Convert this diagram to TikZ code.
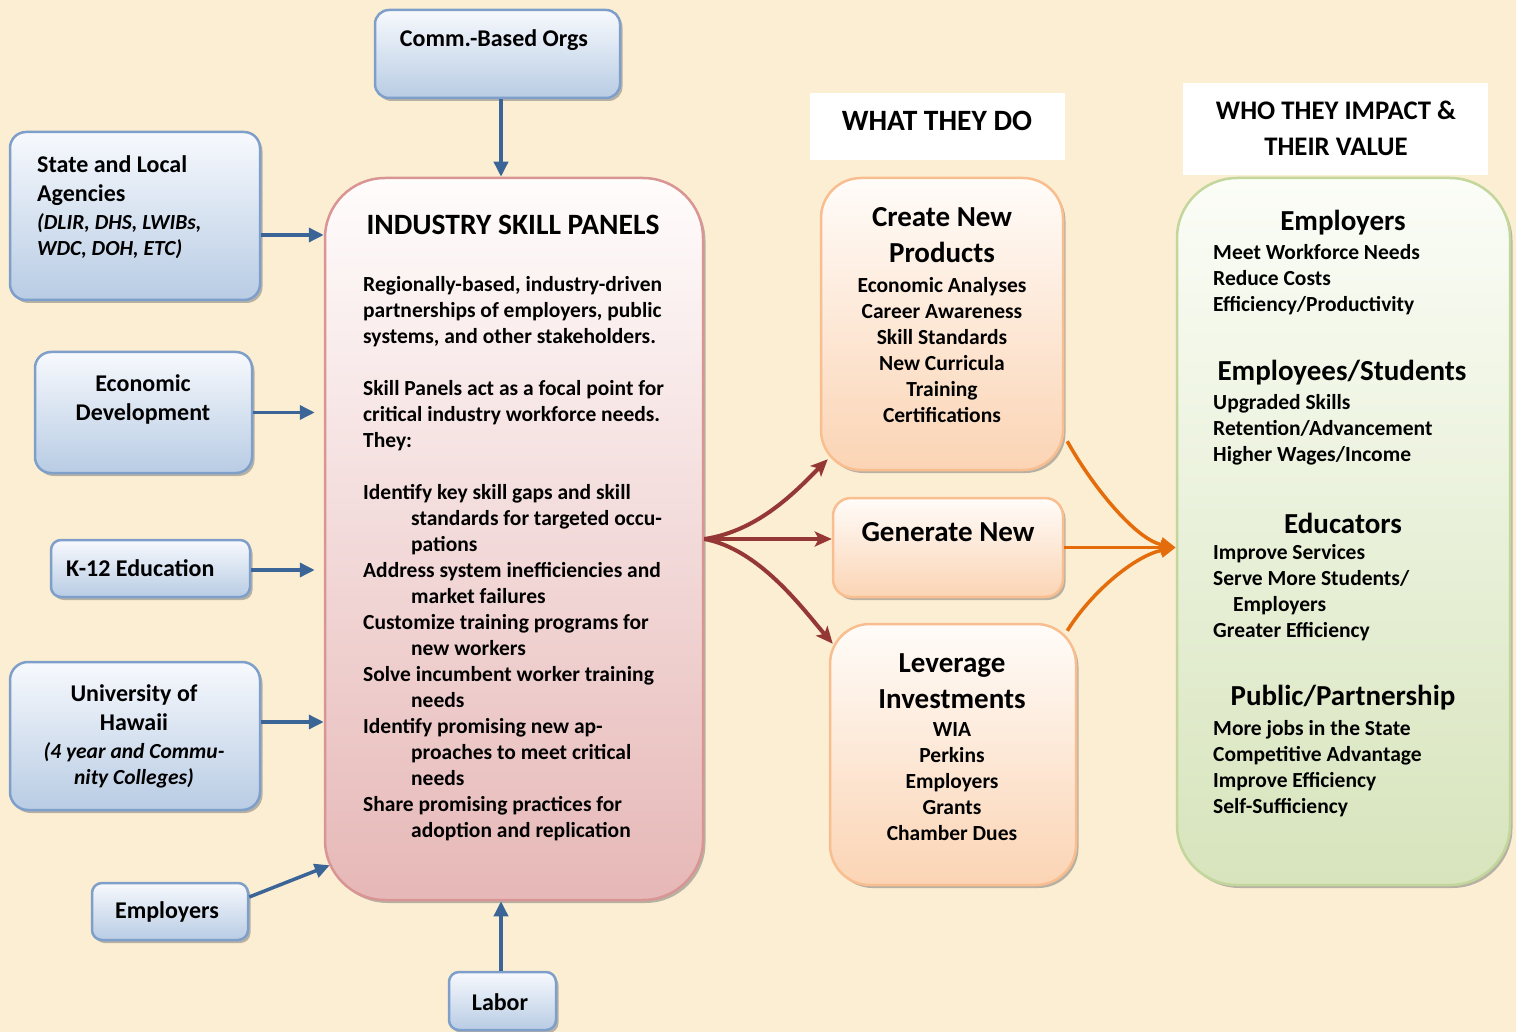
\documentclass[tikz,border=0pt]{standalone}
\usepackage{fontspec}
\setmainfont{Carlito}
\usetikzlibrary{positioning,calc,shadows,arrows.meta}

\definecolor{bgcol}{HTML}{FCEED2}
\definecolor{srcline}{HTML}{7F9FCB}
\definecolor{srctop}{HTML}{F7F9FD}
\definecolor{srcbot}{HTML}{B8CCE4}
\definecolor{feedcol}{HTML}{3B6497}
\definecolor{hubline}{HTML}{D99594}
\definecolor{hubtop}{HTML}{FFFCFC}
\definecolor{hubbot}{HTML}{E6B8B7}
\definecolor{makecol}{HTML}{953735}
\definecolor{doline}{HTML}{F9BE8F}
\definecolor{dotop}{HTML}{FFFCF9}
\definecolor{dobot}{HTML}{FBD4B4}
\definecolor{outcol}{HTML}{E46C0A}
\definecolor{gainline}{HTML}{C3D69B}
\definecolor{gaintop}{HTML}{FBFDF7}
\definecolor{gainbot}{HTML}{D7E4BC}

\newcommand\skbody{\fontsize{21.5}{26}\selectfont\bfseries}
\newcommand\sksrc{\fontsize{24}{29}\selectfont\bfseries}
\newcommand\skhead{\fontsize{29}{36}\selectfont\bfseries}
\newcommand\sktitle{\fontsize{29.5}{36}\selectfont\bfseries}
\newcommand\skcap{\fontsize{26.8}{36}\selectfont\bfseries}

\tikzset{
  panel/.style={rectangle, inner sep=0pt, line width=2.5pt,
    drop shadow={shadow xshift=2.5pt, shadow yshift=-3pt, fill=black!50, opacity=.55}},
  srcbox/.style={panel, draw=srcline, top color=srctop, bottom color=srcbot, rounded corners=16pt},
  hubbox/.style={panel, draw=hubline, top color=hubtop, bottom color=hubbot, rounded corners=60pt},
  dobox/.style={panel, draw=doline, top color=dotop, bottom color=dobot, rounded corners=40pt},
  gainbox/.style={panel, draw=gainline, top color=gaintop, bottom color=gainbot, rounded corners=60pt},
  capbox/.style={rectangle, fill=white, inner sep=0pt},
  txt/.style={inner sep=0pt, font=\skbody, align=left},
  feed/.style={draw=feedcol, line width=3.5pt, -{Triangle[length=15pt,width=14pt]}},
  make/.style={draw=makecol, line width=4pt, -{Stealth[length=17pt,width=15pt,inset=4pt]}},
  outflow/.style={draw=outcol, line width=3.5pt, -{Triangle[length=15pt,width=14pt]}},
}

\begin{document}
\begin{tikzpicture}[x=1pt,y=-1pt]
  \fill[bgcol] (0,0) rectangle (1516,1032);
  \useasboundingbox (0,0) rectangle (1516,1032);

  % who feeds the panels
  \node[srcbox, minimum width=245, minimum height=88, rounded corners=14pt] (comm) at (497.5,54) {};
  \node[srcbox, minimum width=250, minimum height=168] (state) at (135,216) {};
  \node[srcbox, minimum width=217, minimum height=121] (econ) at (143.5,412.5) {};
  \node[srcbox, minimum width=199, minimum height=57, rounded corners=10pt] (kedu) at (150.5,568.5) {};
  \node[srcbox, minimum width=250, minimum height=148, rounded corners=18pt] (univ) at (135,736) {};
  \node[srcbox, minimum width=156, minimum height=57, rounded corners=10pt] (empl) at (170,911.5) {};
  \node[srcbox, minimum width=107, minimum height=58, rounded corners=10pt] (labor) at (502.5,1001) {};

  \node[txt, font=\sksrc] (commT) at (494,40) {Comm.-Based Orgs};
  \node[txt, font=\sksrc, anchor=north west] (stateT) at (37,155.4) {State and Local\\Agencies};
  \node[txt, font=\skbody\itshape, anchor=north west] (stateN) at (37,213.6) {(DLIR, DHS, LWIBs,\\WDC, DOH, ETC)};
  \node[txt, font=\sksrc, align=center, anchor=north] (econT) at (143,374.4) {Economic\\Development};
  \node[txt, font=\sksrc, anchor=west] (keduT) at (66,568) {K-12 Education};
  \node[txt, font=\sksrc, align=center, anchor=north] (univT) at (134,684.4) {University of\\Hawaii};
  \node[txt, font=\skbody\itshape, align=center, anchor=north] (univN) at (134,742.6) {(4 year and Commu-\\nity Colleges)};
  \node[txt, font=\sksrc] (emplT) at (167,912) {Employers};
  \node[txt, font=\sksrc] (laborT) at (500,1002) {Labor};

  % the panels
  \node[hubbox, minimum width=378, minimum height=722] (isp) at (514,539) {};
  \node[txt, font=\sktitle] (ispT) at (513,225) {INDUSTRY SKILL PANELS};
  \node[txt, anchor=north west] (ispB) at (363,276.6) {%
    Regionally-based, industry-driven\\
    partnerships of employers, public\\
    systems, and other stakeholders.\\[26pt]
    Skill Panels act as a focal point for\\
    critical industry workforce needs.\\
    They:\\[26pt]
    Identify key skill gaps and skill\\
    \hspace*{48pt}standards for targeted occu-\\
    \hspace*{48pt}pations\\
    Address system inefficiencies and\\
    \hspace*{48pt}market failures\\
    Customize training programs for\\
    \hspace*{48pt}new workers\\
    Solve incumbent worker training\\
    \hspace*{48pt}needs\\
    Identify promising new ap-\\
    \hspace*{48pt}proaches to meet critical\\
    \hspace*{48pt}needs\\
    Share promising practices for\\
    \hspace*{48pt}adoption and replication};

  % what they do
  \node[capbox, minimum width=255, minimum height=67] (doCap) at (937.5,126.5) {};
  \node[txt, font=\sktitle] (doCapT) at (937,121) {WHAT THEY DO};
  \node[dobox, minimum width=242, minimum height=292] (create) at (942,324) {};
  \node[dobox, minimum width=230, minimum height=99, rounded corners=18pt] (generate) at (948,547.5) {};
  \node[dobox, minimum width=246, minimum height=261] (leverage) at (953,754.5) {};

  \node[txt, font=\skhead, align=center, anchor=north] (createT) at (942,207.4) {Create New\\Products};
  \node[txt, align=center, anchor=north] (createL) at (942,277.6) {Economic Analyses\\Career Awareness\\Skill Standards\\New Curricula\\Training\\Certifications};
  \node[txt, font=\skhead] (generateT) at (948,532) {Generate New};
  \node[txt, font=\skhead, align=center, anchor=north] (leverageT) at (952,653.4) {Leverage\\Investments};
  \node[txt, align=center, anchor=north] (leverageL) at (952,722.6) {WIA\\Perkins\\Employers\\Grants\\Chamber Dues};

  % who they impact
  \node[capbox, minimum width=305, minimum height=92] (gainCap) at (1335.5,129) {};
  \node[txt, font=\skcap, align=center] (gainCapT) at (1336,128) {WHO THEY IMPACT \&\\THEIR VALUE};
  \node[gainbox, minimum width=333, minimum height=707] (impact) at (1343.5,531.5) {};

  \node[txt, font=\skhead] (gEmpl) at (1343,223) {Employers};
  \node[txt, anchor=north west] (gEmplL) at (1213,244.6) {Meet Workforce Needs\\Reduce Costs\\Efficiency/Productivity};
  \node[txt, font=\skhead] (gStud) at (1342,373) {Employees/Students};
  \node[txt, anchor=north west] (gStudL) at (1213,394.6) {Upgraded Skills\\Retention/Advancement\\Higher Wages/Income};
  \node[txt, font=\skhead] (gEdu) at (1343,523) {Educators};
  \node[txt, anchor=north west] (gEduL) at (1213,544.6) {Improve Services\\Serve More Students/\\\hspace*{20pt}Employers\\Greater Efficiency};
  \node[txt, font=\skhead] (gPub) at (1343,698) {Public/Partnership};
  \node[txt, anchor=north west] (gPubL) at (1213,720.6) {More jobs in the State\\Competitive Advantage\\Improve Efficiency\\Self-Sufficiency};

  % inputs
  \draw[feed] ([xshift=3.5pt]comm.south) -- ([xshift=3.5pt]comm.south |- isp.north);
  \draw[feed] ([yshift=-19pt]state.east) -- ([yshift=-19pt]state.east -| isp.west);
  \draw[feed] (econ.east) -- ([xshift=-9pt]econ.east -| isp.west);
  \draw[feed] ([yshift=-1.5pt]kedu.east) -- ([xshift=-9pt,yshift=-1.5pt]kedu.east -| isp.west);
  \draw[feed] ([yshift=14pt]univ.east) -- ([yshift=14pt]univ.east -| isp.west);
  \draw[feed] ([yshift=14.5pt]empl.east) -- ([xshift=6pt,yshift=36pt]isp.south west);
  \draw[feed] ([xshift=-1.5pt]labor.north) -- ([xshift=-1.5pt]labor.north |- isp.south);

  % what the panels do
  \draw[make] (isp.east) .. controls +(55,-8) and +(-30,30) .. ([xshift=8pt,yshift=12pt]create.south west);
  \draw[make] (isp.east) -- (isp.east -| generate.west);
  \draw[make] (isp.east) .. controls +(55,10) and +(-30,-35) .. ([xshift=4pt,yshift=-21pt]leverage.north west);

  % who gains
  \coordinate (meet) at (impact.west |- generate.east);
  \draw[outflow] ([xshift=3pt,yshift=30pt]create.south east) .. controls +(25,45) and +(-40,-8) .. (meet);
  \draw[outflow] (generate.east) -- (meet);
  \draw[outflow] ([xshift=-10pt,yshift=-8pt]leverage.north east) .. controls +(25,-40) and +(-40,8) .. (meet);
\end{tikzpicture}
\end{document}
